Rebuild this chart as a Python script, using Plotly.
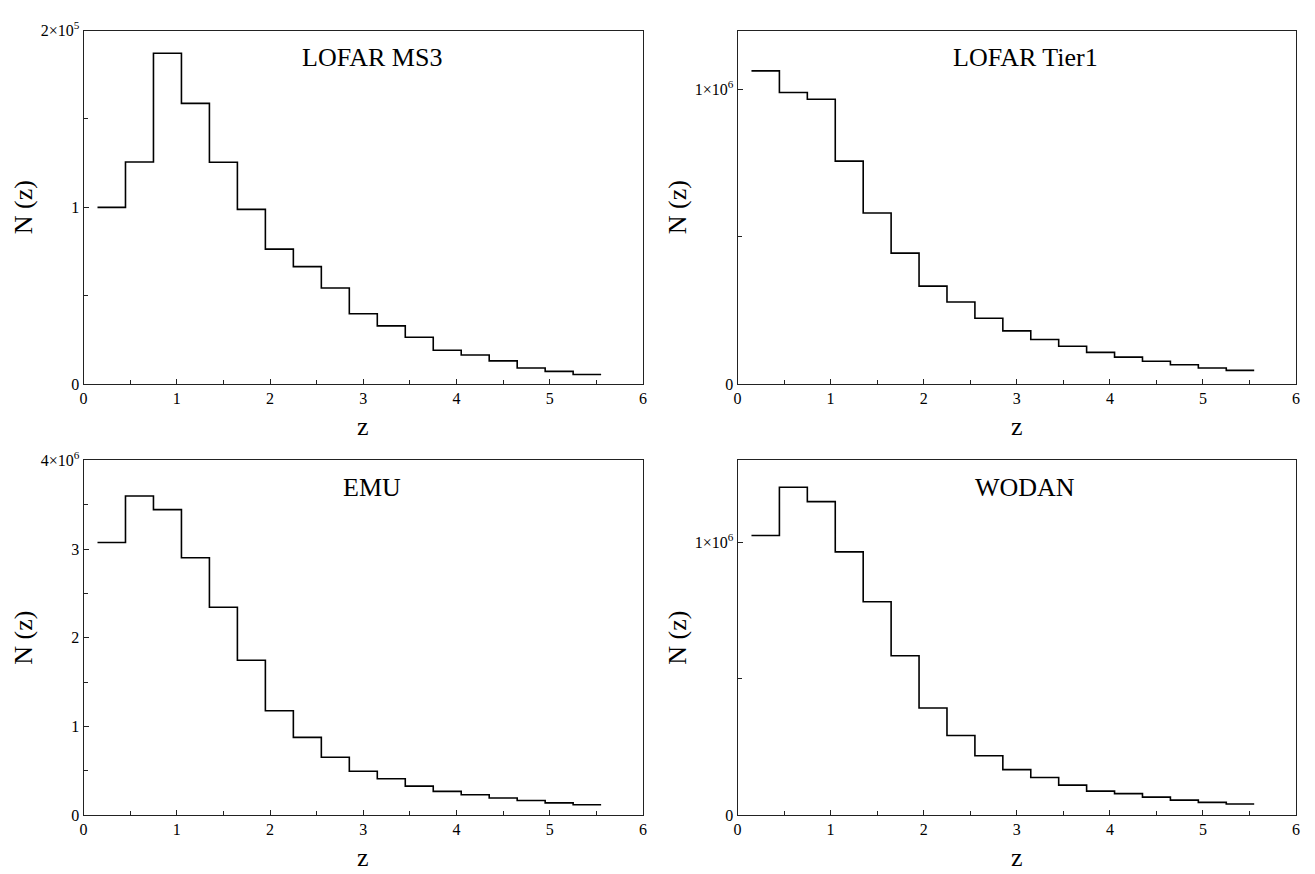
import plotly.graph_objects as go

# Bin edges in redshift z (18 bins of width 0.3)
z_edges = [0.15, 0.45, 0.75, 1.05, 1.35, 1.65, 1.95, 2.25, 2.55, 2.85,
           3.15, 3.45, 3.75, 4.05, 4.35, 4.65, 4.95, 5.25, 5.55]

# N(z) per bin for each survey
lofar_ms3 = [1.000e5, 1.257e5, 1.872e5, 1.588e5, 1.255e5, 0.989e5, 0.764e5, 0.665e5, 0.544e5,
             0.399e5, 0.330e5, 0.266e5, 0.192e5, 0.165e5, 0.132e5, 0.092e5, 0.073e5, 0.055e5]
lofar_tier1 = [1.063e6, 0.990e6, 0.967e6, 0.757e6, 0.581e6, 0.445e6, 0.333e6, 0.279e6, 0.224e6,
               0.181e6, 0.152e6, 0.129e6, 0.108e6, 0.092e6, 0.078e6, 0.066e6, 0.055e6, 0.047e6]
emu = [3.075e6, 3.600e6, 3.446e6, 2.903e6, 2.345e6, 1.747e6, 1.178e6, 0.877e6, 0.653e6,
       0.495e6, 0.411e6, 0.327e6, 0.268e6, 0.231e6, 0.194e6, 0.165e6, 0.139e6, 0.117e6]
wodan = [1.025e6, 1.202e6, 1.149e6, 0.965e6, 0.782e6, 0.584e6, 0.393e6, 0.292e6, 0.218e6,
         0.167e6, 0.138e6, 0.110e6, 0.088e6, 0.079e6, 0.066e6, 0.055e6, 0.047e6, 0.041e6]

x_tickvals = [0, 1, 2, 3, 4, 5, 6]

panels = [
    dict(name="LOFAR MS3", data=lofar_ms3, yrange=[0, 2e5], ytickvals=[0, 1e5, 2e5],
         yticktext=["0", "1", "2×10<sup>5</sup>"], yminor=5e4),
    dict(name="LOFAR Tier1", data=lofar_tier1, yrange=[0, 1.2e6], ytickvals=[0, 1e6],
         yticktext=["0", "1×10<sup>6</sup>"], yminor=5e5),
    dict(name="EMU", data=emu, yrange=[0, 4e6], ytickvals=[0, 1e6, 2e6, 3e6, 4e6],
         yticktext=["0", "1", "2", "3", "4×10<sup>6</sup>"], yminor=5e5),
    dict(name="WODAN", data=wodan, yrange=[0, 1.3e6], ytickvals=[0, 1e6],
         yticktext=["0", "1×10<sup>6</sup>"], yminor=5e5),
]

W, H = 1315, 874
xdoms = [[80 / W, 643 / W], [738 / W, 1300 / W]]
ydoms = [[1 - 382 / H, 1 - 20 / H], [1 - 823 / H, 1 - 460 / H]]

FONT = "Liberation Serif"
fig = go.Figure()
layout = dict(
    width=W, height=H, margin=dict(l=0, r=0, t=0, b=0),
    paper_bgcolor="white", plot_bgcolor="white", showlegend=False,
    font=dict(family=FONT, color="black", size=16),
)
annotations = []

for i, p in enumerate(panels):
    r, c = divmod(i, 2)
    n = i + 1
    xa = "x" if n == 1 else f"x{n}"
    ya = "y" if n == 1 else f"y{n}"
    xs = list(z_edges)
    ys = list(p["data"]) + [p["data"][-1]]
    fig.add_trace(go.Scatter(x=xs, y=ys, mode="lines", line=dict(color="black", width=1.6, shape="hv"),
                             xaxis=xa, yaxis=ya, hoverinfo="skip"))
    axis_common = dict(showline=True, linecolor="#222", linewidth=1, mirror=True,
                       ticks="inside", ticklen=5, tickcolor="#222", showgrid=False, zeroline=False,
                       tickfont=dict(family=FONT, size=16, color="black"))
    layout[f"xaxis{'' if n == 1 else n}"] = dict(
        domain=xdoms[c], anchor=ya, range=[0, 6], tickvals=x_tickvals,
        minor=dict(ticks="inside", ticklen=4, dtick=0.5, tick0=0, tickcolor="#222"),
        **axis_common)
    layout[f"yaxis{'' if n == 1 else n}"] = dict(
        domain=ydoms[r], anchor=xa, range=p["yrange"], tickvals=p["ytickvals"], ticktext=p["yticktext"],
        minor=dict(ticks="inside", ticklen=4, dtick=p["yminor"], tick0=0, tickcolor="#222"),
        **axis_common)
    # panel label
    annotations.append(dict(text=p["name"], xref=f"{xa} domain", yref=f"{ya} domain",
                            x=0.515, y=0.925, showarrow=False, xanchor="center", yanchor="middle",
                            font=dict(family=FONT, size=26, color="black")))
    # axis titles
    xc = (xdoms[c][0] + xdoms[c][1]) / 2
    yc = (ydoms[r][0] + ydoms[r][1]) / 2
    annotations.append(dict(text="z", xref="paper", yref="paper", x=xc, y=ydoms[r][0] - 43 / H,
                            showarrow=False, xanchor="center", yanchor="middle",
                            font=dict(family=FONT, size=26, color="black")))
    annotations.append(dict(text="N (z)", xref="paper", yref="paper", x=xdoms[c][0] - 60 / W, y=yc,
                            textangle=-90, showarrow=False, xanchor="center", yanchor="middle",
                            font=dict(family=FONT, size=26, color="black")))

layout["annotations"] = annotations
fig.update_layout(**layout)
fig.write_html("out.html")
